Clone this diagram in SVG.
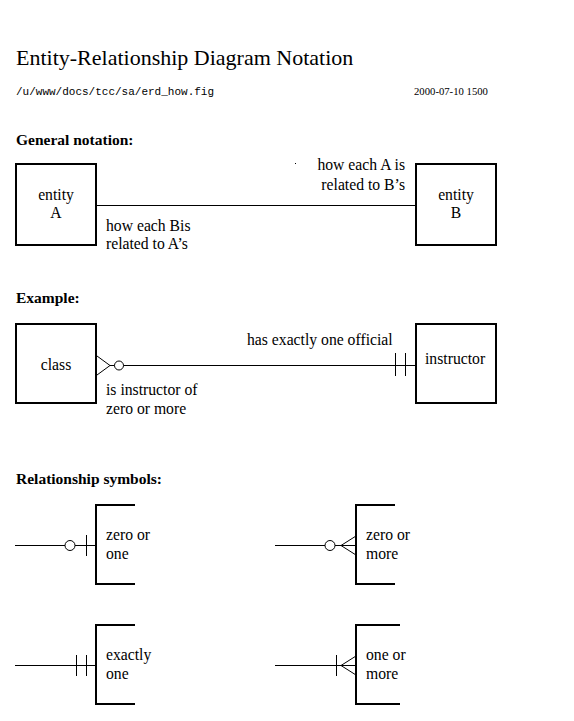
<svg xmlns="http://www.w3.org/2000/svg" width="574" height="721" viewBox="0 0 574 721">
<style>
text{font-family:"Liberation Serif","Times New Roman",serif;fill:#000}
.title{font-size:22px}
.mono{font-family:"Liberation Mono","Courier New",monospace;font-size:11px}
.date{font-size:10.7px}
.head{font-size:15.5px;font-weight:bold}
.lbl{font-size:15.7px}
.mid{text-anchor:middle}
.end{text-anchor:end}
.box{fill:#fff;stroke:#000;stroke-width:2}
.brk{fill:none;stroke:#000;stroke-width:2}
.ln{fill:none;stroke:#000;stroke-width:1}
.circ{fill:#fff;stroke:#000;stroke-width:1}
</style>
<rect width="574" height="721" fill="#fff"/>
<text class="title" x="16" y="65">Entity-Relationship Diagram Notation</text>
<text class="mono" x="16" y="95">/u/www/docs/tcc/sa/erd_how.fig</text>
<text class="date" x="414" y="95">2000-07-10 1500</text>

<text class="head" x="16" y="145">General notation:</text>
<text class="head" x="16" y="303">Example:</text>
<text class="head" x="16" y="484">Relationship symbols:</text>

<g id="connectors">
  <line class="ln" x1="96" y1="205.5" x2="416" y2="205.5"/>
  <rect x="295" y="163" width="1" height="1" fill="#000"/>
  <line class="ln" x1="110" y1="365.5" x2="416" y2="365.5"/>
  <polyline class="ln" points="97,356 110,365.5 97,375"/>
  <circle class="circ" cx="119" cy="365.5" r="4.5"/>
  <line class="ln" x1="395.5" y1="353" x2="395.5" y2="376"/>
  <line class="ln" x1="405.5" y1="353" x2="405.5" y2="376"/>
</g>

<g id="entityA">
  <rect class="box" x="16" y="164" width="80" height="81"/>
  <text class="lbl mid" x="56" y="200">entity</text>
  <text class="lbl mid" x="56" y="218">A</text>
</g>
<g id="entityB">
  <rect class="box" x="416" y="164" width="80" height="81"/>
  <text class="lbl mid" x="456" y="200">entity</text>
  <text class="lbl mid" x="456" y="218">B</text>
</g>
<g id="labelsGeneral">
  <text class="lbl" x="106" y="231">how each Bis</text>
  <text class="lbl" x="106" y="249">related to A’s</text>
  <text class="lbl end" x="405" y="170">how each A is</text>
  <text class="lbl end" x="405" y="190">related to B’s</text>
</g>

<g id="class">
  <rect class="box" x="16" y="324" width="80" height="79"/>
  <text class="lbl mid" x="56" y="370">class</text>
</g>
<g id="instructor">
  <rect class="box" x="416" y="324" width="80" height="79"/>
  <text class="lbl" x="425" y="364">instructor</text>
</g>
<g id="labelsExample">
  <text class="lbl" x="247" y="345">has exactly one official</text>
  <text class="lbl" x="106" y="395">is instructor of</text>
  <text class="lbl" x="106" y="414">zero or more</text>
</g>

<g id="zeroOrOne">
  <line class="ln" x1="15" y1="545.5" x2="96" y2="545.5"/>
  <circle class="circ" cx="70" cy="545.5" r="5"/>
  <line class="ln" x1="86.5" y1="535" x2="86.5" y2="556"/>
  <polyline class="brk" points="135,505 96,505 96,584 135,584"/>
  <text class="lbl" x="106" y="540">zero or</text>
  <text class="lbl" x="106" y="559">one</text>
</g>
<g id="zeroOrMore">
  <line class="ln" x1="275" y1="545.5" x2="356" y2="545.5"/>
  <circle class="circ" cx="330" cy="545.5" r="5"/>
  <polyline class="ln" points="356,536 341,545.5 356,555"/>
  <polyline class="brk" points="395,505 356,505 356,584 395,584"/>
  <text class="lbl" x="366" y="540">zero or</text>
  <text class="lbl" x="366" y="559">more</text>
</g>
<g id="exactlyOne">
  <line class="ln" x1="15" y1="665.5" x2="96" y2="665.5"/>
  <line class="ln" x1="76.5" y1="655" x2="76.5" y2="676"/>
  <line class="ln" x1="86.5" y1="655" x2="86.5" y2="676"/>
  <polyline class="brk" points="135,625 96,625 96,704 135,704"/>
  <text class="lbl" x="106" y="660">exactly</text>
  <text class="lbl" x="106" y="679">one</text>
</g>
<g id="oneOrMore">
  <line class="ln" x1="275" y1="665.5" x2="356" y2="665.5"/>
  <line class="ln" x1="336.5" y1="655" x2="336.5" y2="676"/>
  <polyline class="ln" points="356,656 341,665.5 356,675"/>
  <polyline class="brk" points="400,625 356,625 356,704 400,704"/>
  <text class="lbl" x="366" y="660">one or</text>
  <text class="lbl" x="366" y="679">more</text>
</g>
</svg>
